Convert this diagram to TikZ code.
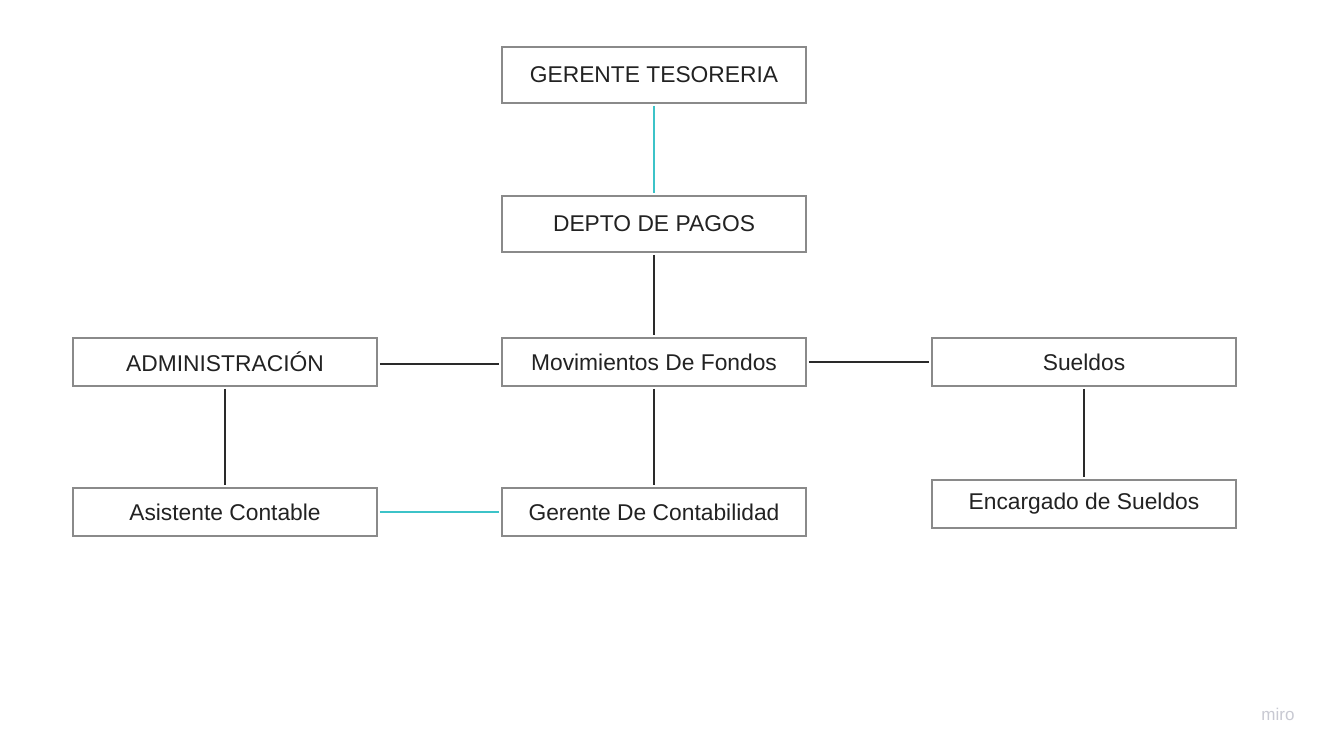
\documentclass[tikz,border=0pt]{standalone}
\usepackage{fontspec}
\setmainfont{Liberation Sans}
\definecolor{boxgray}{HTML}{8A8A8A}
\definecolor{teal2}{HTML}{3CC3C8}
\definecolor{linedark}{HTML}{2A2A2A}
\definecolor{txt}{HTML}{222222}
\definecolor{logo}{HTML}{C8C9D2}
\begin{document}
\begin{tikzpicture}[x=1pt,y=-1pt,
  orgbox/.style={draw=boxgray,line width=1.8pt,fill=white,minimum width=304pt,inner sep=0pt,
    font=\fontsize{22.8}{25}\selectfont,text=txt},
  tall/.style={minimum height=56pt},
  short/.style={minimum height=48pt},
  dark/.style={draw=linedark,line width=1.8pt,shorten <=2pt,shorten >=2pt},
  cyan/.style={draw=teal2,line width=1.8pt,shorten <=2pt,shorten >=2pt}]
\fill[white] (0,0) rectangle (1330,751);
\useasboundingbox (0,0) rectangle (1330,751);
\node[orgbox,tall] (gt) at (654,75) {GERENTE TESORERIA};
\node[orgbox,tall] (dp) at (654,224) {DEPTO DE PAGOS};
\node[orgbox,short] (mf) at (654,362) {Movimientos De Fondos};
\node[orgbox,short] (adm) at (225,362) {ADMINISTRACIÓN};
\node[orgbox,short] (su) at (1084,362) {Sueldos};
\node[orgbox,short] (ac) at (225,512) {Asistente Contable};
\node[orgbox,short] (gc) at (654,512) {Gerente De Contabilidad};
\node[orgbox,short] (es) at (1084,504) {Encargado de Sueldos};
\draw[cyan] (gt) -- (dp);
\draw[dark] (dp) -- (mf);
\draw[dark] (adm.east |- 0,364) -- (mf.west |- 0,364);
\draw[dark] (mf) -- (su);
\draw[dark] (mf) -- (gc);
\draw[dark] (adm) -- (ac);
\draw[cyan] (ac) -- (gc);
\draw[dark] (su) -- (es);
\node[text=logo,font=\fontsize{17}{19}\selectfont] (miro) at (1278,714) {miro};
\end{tikzpicture}
\end{document}
